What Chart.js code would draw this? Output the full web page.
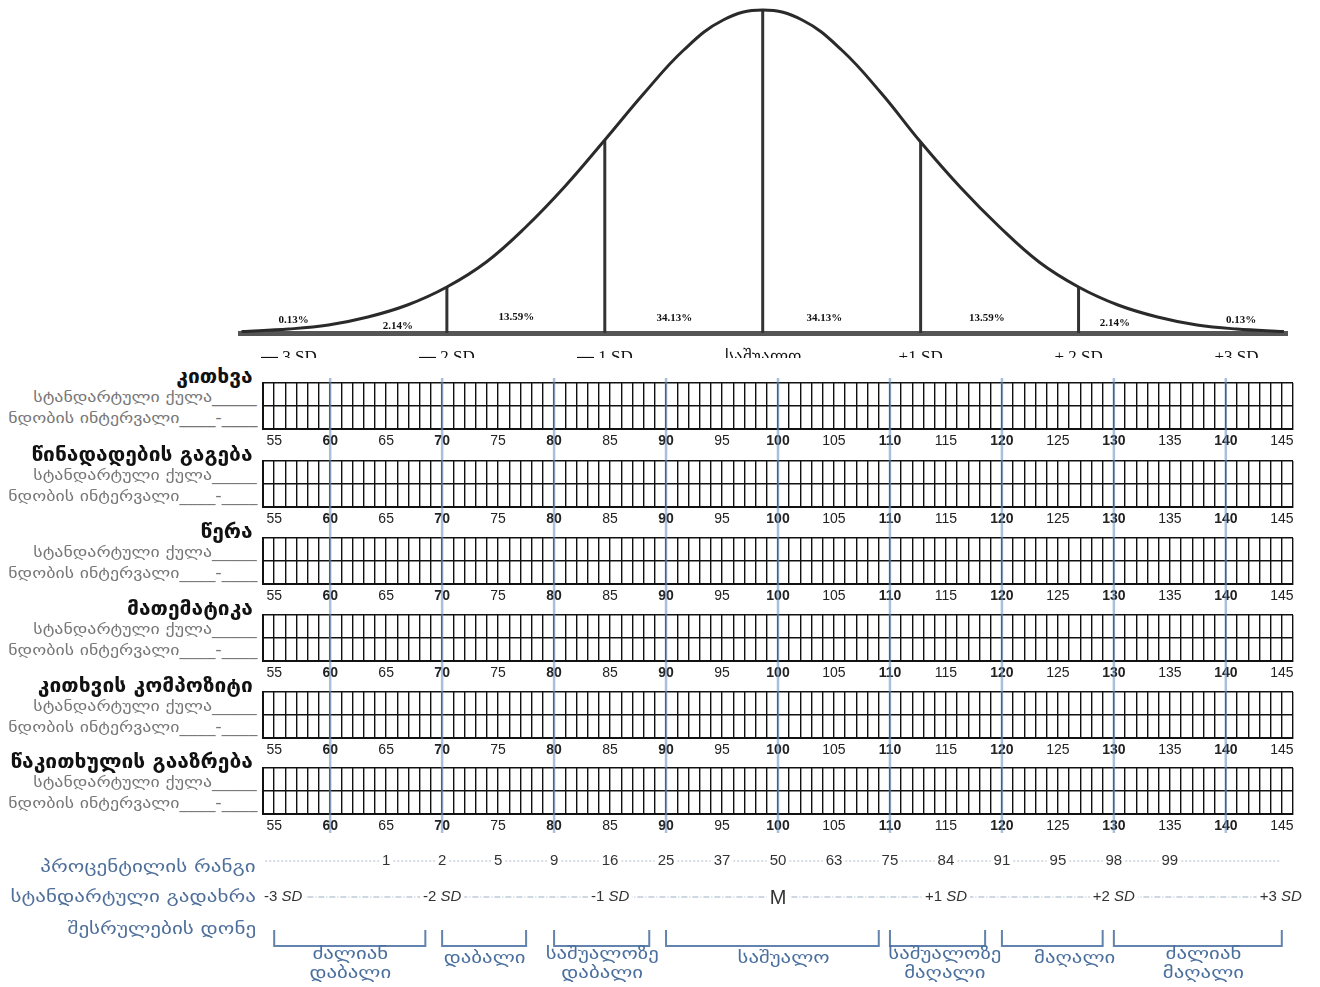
<!DOCTYPE html>
<html>
<head>
<meta charset="utf-8">
<script src="https://cdn.jsdelivr.net/npm/chart.js@4.4.1/dist/chart.umd.min.js"></script>
<style>
  body { margin: 0; background: #fff; width: 1320px; height: 987px; overflow: hidden; position: relative; font-family: "DejaVu Sans", sans-serif; }
  canvas { position: absolute; }
  #bellBox { position: absolute; left: 0; top: 0; width: 1320px; height: 358px; overflow: hidden; }
  .title, .sub, .row { position: absolute; white-space: nowrap; transform-origin: right center; }
  .title { right: 1067px; font-weight: bold; font-size: 20px; line-height: 22px; color: #111; transform: scaleX(1.05); }
  .sub { right: 1063px; font-size: 15px; line-height: 18px; color: #777; transform: scaleX(1.19); }
  .row { right: 1064px; font-size: 17px; line-height: 20px; color: #4f6f9b; transform: scaleX(1.24); }
</style>
</head>
<body>
<div id="bellBox"><canvas id="bell" width="1320" height="385" style="left:0;top:0"></canvas></div>
<canvas id="overlay" width="1030" height="455" style="left:263px;top:378px;z-index:5;pointer-events:none"></canvas>
<canvas id="bottom" width="1070" height="142" style="left:250px;top:845px"></canvas>
<script>
// bell curve (height in px above the baseline)
const sdSteps = [-3.3, -3, -2.75, -2.5, -2.25, -2, -1.75, -1.5, -1.25, -1, -0.75, -0.5, -0.25, 0,
                 0.25, 0.5, 0.75, 1, 1.25, 1.5, 1.75, 2, 2.25, 2.5, 2.75, 3, 3.3];
const curveHeight = [1.5, 4, 8, 16, 28, 46, 71, 106, 147, 193, 240, 283, 313, 323,
                     313, 283, 240, 191, 146, 106, 71, 46, 28, 16, 8, 4, 1.5];
const dividerSD = [-2, -1, 0, 1, 2];
const dividerHeight = [46, 193, 323, 191, 46];
const bandText = ['0.13%', '2.14%', '13.59%', '34.13%', '34.13%', '13.59%', '2.14%', '0.13%'];
const bellTicks = [-3, -2, -1, 0, 1, 2, 3];
const bellTickLabels = ['▬ 3 SD', '▬ 2 SD', '▬ 1 SD', 'საშუალო', '+1 SD', '+ 2 SD', '+3 SD'];

// score panels
const subjects = ['კითხვა', 'წინადადების გაგება', 'წერა', 'მათემატიკა', 'კითხვის კომპოზიტი', 'წაკითხულის გააზრება'];
const blueLines = [60, 70, 80, 90, 100, 110, 120, 130, 140];

// bottom rows
const percentileScores = [65, 70, 75, 80, 85, 90, 95, 100, 105, 110, 115, 120, 125, 130, 135];
const percentileRanks = ['1', '2', '5', '9', '16', '25', '37', '50', '63', '75', '84', '91', '95', '98', '99'];
const sdScores = [55.8, 70, 85, 100, 115, 130, 144.9];
const sdNums = ['-3', '-2', '-1', 'M', '+1', '+2', '+3'];
const levelNames = [['ძალიან', 'დაბალი'], ['დაბალი'], ['საშუალოზე', 'დაბალი'], ['საშუალო'],
                    ['საშუალოზე', 'მაღალი'], ['მაღალი'], ['ძალიან', 'მაღალი']];
const levelFrom = [55, 70, 80, 90, 110, 120, 130];
const levelTo = [68.5, 77.5, 88.5, 109, 118.5, 129, 145];
const levelLabelAt = [61.8, 73.8, 84.3, 100.5, 114.9, 126.5, 138];

const SERIF = '"Liberation Serif", "Times New Roman", serif';
const SANS = '"Liberation Sans", Arial, sans-serif';
const GEO = '"DejaVu Sans", sans-serif';
const base = { animation: false, responsive: false, events: [],
  plugins: { legend: { display: false }, tooltip: { enabled: false } } };

// ---- bell curve ----
const bandPos = [[-2.97, 13], [-2.31, 7], [-1.56, 16], [-0.56, 15], [0.39, 15], [1.42, 15], [2.23, 10], [3.03, 13]];
const bandLabels = {
  id: 'bandLabels',
  afterDatasetsDraw(chart) {
    const { ctx, scales: { x, y } } = chart;
    ctx.save();
    ctx.font = 'bold 11px ' + SERIF;
    ctx.fillStyle = '#111';
    ctx.textAlign = 'center';
    ctx.textBaseline = 'middle';
    bandText.forEach((t, i) => ctx.fillText(t, x.getPixelForValue(bandPos[i][0]), y.getPixelForValue(bandPos[i][1])));
    ctx.restore();
  }
};

new Chart(document.getElementById('bell'), {
  type: 'scatter',
  data: {
    datasets: [
      { data: sdSteps.map((s, i) => ({ x: s, y: curveHeight[i] })), showLine: true,
        borderColor: '#2a2a2a', borderWidth: 3, pointRadius: 0, tension: 0.4 },
      ...dividerSD.map((s, i) => ({ data: [{ x: s, y: 0 }, { x: s, y: dividerHeight[i] }], showLine: true,
        borderColor: '#333', borderWidth: 3, pointRadius: 0 }))
    ]
  },
  options: {
    ...base,
    layout: { padding: { left: 240, right: 33, top: 0, bottom: 0 } },
    scales: {
      x: { type: 'linear', min: -3.31, max: 3.32,
        afterFit: s => { s.height = 52; },
        afterBuildTicks: s => { s.ticks = bellTicks.map(v => ({ value: v })); },
        grid: { display: false },
        border: { display: true, width: 5, color: '#555' },
        ticks: { padding: 6, color: '#111', maxRotation: 0, autoSkip: false,
          font: { family: SERIF, size: 17 },
          callback: v => bellTickLabels[bellTicks.indexOf(v)] } },
      y: { display: false, min: 0, max: 333 }
    }
  },
  plugins: [bandLabels]
});

// ---- score panels ----
const panelTop = [383, 461, 538, 615, 692, 768];
subjects.forEach((name, i) => {
  const top = panelTop[i];
  const t = document.createElement('div');
  t.className = 'title'; t.style.top = (top - 18) + 'px'; t.textContent = name;
  document.body.appendChild(t);
  const s1 = document.createElement('div');
  s1.className = 'sub'; s1.style.top = (top + 5) + 'px'; s1.textContent = 'სტანდარტული ქულა_____';
  document.body.appendChild(s1);
  const s2 = document.createElement('div');
  s2.className = 'sub'; s2.style.top = (top + 26) + 'px'; s2.textContent = 'ნდობის ინტერვალი____-____';
  document.body.appendChild(s2);

  const c = document.createElement('canvas');
  c.width = 1060; c.height = 73;
  c.style.left = '250px'; c.style.top = (top - 3) + 'px';
  document.body.appendChild(c);
  new Chart(c, {
    type: 'scatter',
    data: { datasets: [] },
    options: {
      ...base,
      layout: { padding: { left: 13, right: 17, top: 3, bottom: 0 } },
      scales: {
        x: { type: 'linear', min: 54, max: 146,
          afterFit: s => { s.height = 24; },
          grid: { color: '#111', lineWidth: 1.4, drawTicks: false },
          border: { color: '#111', width: 2 },
          ticks: { stepSize: 1, autoSkip: false, maxRotation: 0, padding: 4, color: '#222',
            callback: v => (v % 5 === 0 ? String(v) : ''),
            font: c => ({ family: SANS, size: 14, weight: c.tick && c.tick.value % 10 === 0 ? 'bold' : 'normal' }) } },
        y: { min: 0, max: 2,
          afterFit: s => { s.width = 0; },
          ticks: { display: false, stepSize: 1 },
          grid: { color: '#111', lineWidth: 1.4, drawTicks: false },
          border: { color: '#111', width: 2 } }
      }
    }
  });
});

// blue guide lines through all panels
new Chart(document.getElementById('overlay'), {
  type: 'scatter',
  data: { datasets: blueLines.map(v => ({ data: [{ x: v, y: 0 }, { x: v, y: 1 }], showLine: true,
    borderColor: 'rgba(110,150,195,0.6)', borderWidth: 2.5, pointRadius: 0 })) },
  options: { ...base, layout: { padding: 0 },
    scales: { x: { display: false, min: 54, max: 146 }, y: { display: false, min: 0, max: 1 } } }
});

// ---- bottom rows ----
const ROW_RANK = 16, ROW_SD = 52, BR_TOP = 85, BR_BOT = 101;
[['პროცენტილის რანგი', 856], ['სტანდარტული გადახრა', 886], ['შესრულების დონე', 918]].forEach(([txt, top]) => {
  const d = document.createElement('div');
  d.className = 'row'; d.style.top = top + 'px'; d.textContent = txt;
  document.body.appendChild(d);
});

const rowLabels = {
  id: 'rowLabels',
  afterDatasetsDraw(chart) {
    const { ctx, scales: { x, y } } = chart;
    ctx.save();
    ctx.textBaseline = 'middle';
    // percentile ranks
    ctx.font = '15px ' + SANS;
    ctx.textAlign = 'center';
    percentileRanks.forEach((r, i) => {
      const px = x.getPixelForValue(percentileScores[i]), py = y.getPixelForValue(ROW_RANK);
      const w = ctx.measureText(r).width + 6;
      ctx.fillStyle = '#fff'; ctx.fillRect(px - w / 2, py - 8, w, 16);
      ctx.fillStyle = '#333'; ctx.fillText(r, px, py);
    });
    // SD row
    sdNums.forEach((n, i) => {
      const px = x.getPixelForValue(sdScores[i]), py = y.getPixelForValue(ROW_SD);
      ctx.textAlign = 'left';
      if (n === 'M') {
        ctx.font = '20px ' + SANS;
        const w = ctx.measureText('M').width;
        ctx.fillStyle = '#fff'; ctx.fillRect(px - w / 2 - 3, py - 10, w + 6, 20);
        ctx.fillStyle = '#333'; ctx.fillText('M', px - w / 2, py + 1);
        return;
      }
      ctx.font = '15px ' + SANS;
      const w1 = ctx.measureText(n + ' ').width;
      ctx.font = 'italic 15px ' + SANS;
      const w2 = ctx.measureText('SD').width;
      const x0 = px - (w1 + w2) / 2;
      ctx.fillStyle = '#fff'; ctx.fillRect(x0 - 3, py - 8, w1 + w2 + 6, 16);
      ctx.fillStyle = '#333';
      ctx.font = '15px ' + SANS; ctx.fillText(n + ' ', x0, py);
      ctx.font = 'italic 15px ' + SANS; ctx.fillText('SD', x0 + w1, py);
    });
    // level names, widened like the original lettering
    ctx.font = '16px ' + GEO;
    ctx.textAlign = 'center';
    ctx.fillStyle = '#4a6f9e';
    const put = (txt, px, py) => {
      ctx.save(); ctx.translate(px, py); ctx.scale(1.3, 1); ctx.fillText(txt, 0, 0); ctx.restore();
    };
    levelNames.forEach((lines, i) => {
      const px = x.getPixelForValue(levelLabelAt[i]);
      if (lines.length === 1) put(lines[0], px, y.getPixelForValue(114));
      else lines.forEach((l, k) => put(l, px, y.getPixelForValue(110 + k * 19)));
    });
    ctx.restore();
  }
};

new Chart(document.getElementById('bottom'), {
  type: 'scatter',
  data: {
    datasets: [
      { data: [{ x: 54.2, y: ROW_RANK }, { x: 144.8, y: ROW_RANK }], showLine: true,
        borderColor: '#a9b8ca', borderWidth: 1, borderDash: [2, 2], pointRadius: 0 },
      { data: [{ x: 56, y: ROW_SD }, { x: 144, y: ROW_SD }], showLine: true,
        borderColor: '#9fb0c4', borderWidth: 1, borderDash: [6, 2, 1, 2], pointRadius: 0 },
      ...levelFrom.map((f, i) => ({
        data: [{ x: f, y: BR_TOP }, { x: f, y: BR_BOT }, { x: levelTo[i], y: BR_BOT }, { x: levelTo[i], y: BR_TOP }],
        showLine: true, borderColor: '#6283ad', borderWidth: 2, pointRadius: 0 }))
    ]
  },
  options: { ...base, layout: { padding: { left: 13, right: 27, top: 0, bottom: 0 } },
    scales: { x: { display: false, min: 54, max: 146 }, y: { display: false, min: 0, max: 142, reverse: true } } },
  plugins: [rowLabels]
});
</script>
</body>
</html>
